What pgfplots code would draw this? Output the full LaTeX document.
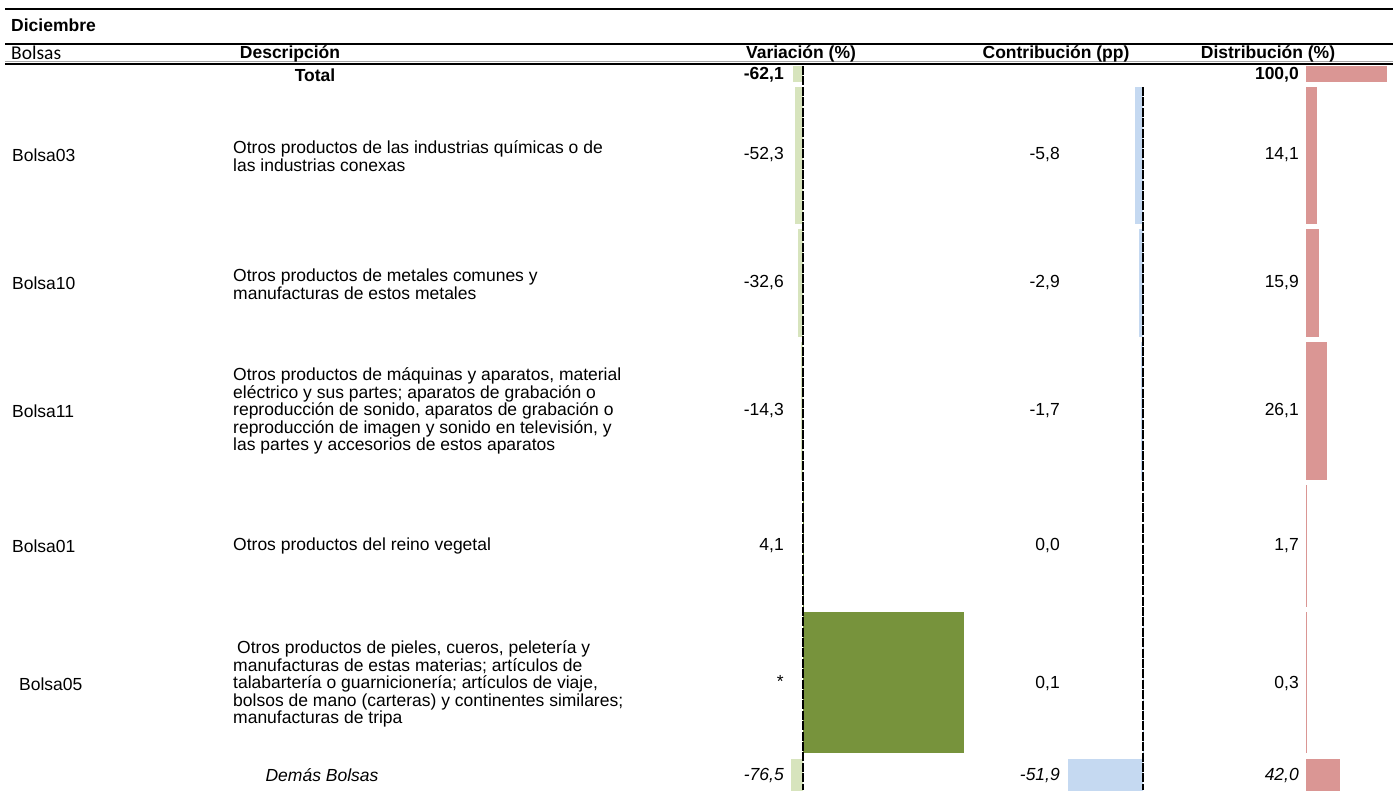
\documentclass[border=0pt]{standalone}
\usepackage{fontspec}
\setmainfont{Liberation Sans}
\newfontfamily\calibri{Carlito}
\usepackage{pgfplots}
\pgfplotsset{compat=1.18}

\definecolor{varneg}{HTML}{D7E4BD}
\definecolor{varpos}{HTML}{77933C}
\definecolor{contr}{HTML}{C5D9F1}
\definecolor{distr}{HTML}{DA9694}

\newcommand\tf{\fontsize{17.5}{17.6}\selectfont}
% one in-cell data bar: value, row centre (px), row height (px), colour
\newcommand\cellbar[4]{\addplot[xbar, bar shift=0pt, bar width=#3, fill=#4, draw=none] coordinates {(#1,#2)};}

\pgfplotsset{
  cellbars/.style={
    hide axis, scale only axis, clip=false,
    y dir=reverse, y=1pt, ymin=0, ymax=790,
    enlargelimits=false, anchor=north west,
  },
}
\tikzset{zeroline/.style={black, line width=2pt, dash pattern=on 9pt off 1.4pt}}

\begin{document}
\begin{tikzpicture}[x=1pt, y=-1pt, font=\tf, every node/.style={inner sep=0pt}]

% left edges of the three bar columns (zero line minus xmin*scale)
\coordinate (varleft) at ({803-80*0.155},0);
\coordinate (conleft) at ({1143-60*1.445},0);
\coordinate (disleft) at (1306,0);

% Variacion (%)
\begin{axis}[cellbars, at={(varleft)}, x=0.155pt, xmin=-80, xmax=1100]
\cellbar{-62.1}{74}{16}{varneg}
\cellbar{-52.3}{155.5}{137}{varneg}
\cellbar{-32.6}{283}{108}{varneg}
\cellbar{-14.3}{411}{138}{varneg}
\cellbar{4.1}{546}{122}{varpos}
\cellbar{1039}{682.5}{141}{varpos}
\cellbar{-76.5}{777}{36}{varneg}
\draw[zeroline] (axis cs:0,66) -- (axis cs:0,790);
\end{axis}

% Contribucion (pp)
\begin{axis}[cellbars, at={(conleft)}, x=1.445pt, xmin=-60, xmax=5]
\cellbar{-5.8}{155.5}{137}{contr}
\cellbar{-2.9}{283}{108}{contr}
\cellbar{-1.7}{411}{138}{contr}
\cellbar{0.1}{682.5}{141}{contr}
\cellbar{-51.9}{777}{36}{contr}
\draw[zeroline] (axis cs:0,87) -- (axis cs:0,790);
\end{axis}

% Distribucion (%)
\begin{axis}[cellbars, at={(disleft)}, x=0.807pt, xmin=0, xmax=110]
\cellbar{100.0}{74}{16}{distr}
\cellbar{14.1}{155.5}{137}{distr}
\cellbar{15.9}{283}{108}{distr}
\cellbar{26.1}{411}{138}{distr}
\cellbar{1.7}{546}{122}{distr}
\cellbar{0.3}{682.5}{141}{distr}
\cellbar{42.0}{777}{36}{distr}
\end{axis}

% rules
\draw[line width=2pt] (5,9) -- (1393,9);
\draw[line width=2pt] (5,44) -- (1393,44);
\draw[gray!70, line width=1pt] (5,61.5) -- (1393,61.5);
\draw[line width=2.2pt] (5,64) -- (1393,64);

% headers
\node[anchor=west] at (11,25) {\bfseries Diciembre};
\node[anchor=west, font=\calibri\fontsize{19.5}{21}\selectfont] at (11,53) {Bolsas};
\node at (290,54) {\bfseries Descripción};
\node at (801,54) {\bfseries Variación (\%)};
\node at (1056,54) {\bfseries Contribución (pp)};
\node at (1268,54) {\bfseries Distribución (\%)};

% Total
\node at (315,75) {\bfseries Total};
\node[anchor=east] at (784,75) {\bfseries -62,1};
\node[anchor=east] at (1299,75) {\bfseries 100,0};

% rows
\node[anchor=west] at (12,155) {Bolsa03};
\node[anchor=west, align=left] at (233,156) {Otros productos de las industrias químicas o de\\las industrias conexas};
\node[anchor=east] at (784,155) {-52,3};
\node[anchor=east] at (1060,155) {-5,8};
\node[anchor=east] at (1299,155) {14,1};

\node[anchor=west] at (12,283) {Bolsa10};
\node[anchor=west, align=left] at (233,284) {Otros productos de metales comunes y\\manufacturas de estos metales};
\node[anchor=east] at (784,283) {-32,6};
\node[anchor=east] at (1060,283) {-2,9};
\node[anchor=east] at (1299,283) {15,9};

\node[anchor=west] at (12,411) {Bolsa11};
\node[anchor=west, align=left] at (233,411) {Otros productos de máquinas y aparatos, material\\eléctrico y sus partes; aparatos de grabación o\\reproducción de sonido, aparatos de grabación o\\reproducción de imagen y sonido en televisión, y\\las partes y accesorios de estos aparatos};
\node[anchor=east] at (784,411) {-14,3};
\node[anchor=east] at (1060,411) {-1,7};
\node[anchor=east] at (1299,411) {26,1};

\node[anchor=west] at (12,546) {Bolsa01};
\node[anchor=west] at (233,546) {Otros productos del reino vegetal};
\node[anchor=east] at (784,546) {4,1};
\node[anchor=east] at (1060,546) {0,0};
\node[anchor=east] at (1299,546) {1,7};

\node[anchor=west] at (19,684) {Bolsa05};
\node[anchor=west, align=left] at (233,684) {\hspace{4pt}Otros productos de pieles, cueros, peletería y\\manufacturas de estas materias; artículos de\\talabartería o guarnicionería; artículos de viaje,\\bolsos de mano (carteras) y continentes similares;\\manufacturas de tripa};
\node[anchor=east] at (784,681) {*};
\node[anchor=east] at (1060,684) {0,1};
\node[anchor=east] at (1299,684) {0,3};

% Demas Bolsas
\node at (322,775) {\itshape Demás Bolsas};
\node[anchor=east] at (784,775) {\itshape -76,5};
\node[anchor=east] at (1060,775) {\itshape -51,9};
\node[anchor=east] at (1299,775) {\itshape 42,0};

\pgfresetboundingbox
\path[use as bounding box] (0,0) rectangle (1395,790);
\end{tikzpicture}
\end{document}
